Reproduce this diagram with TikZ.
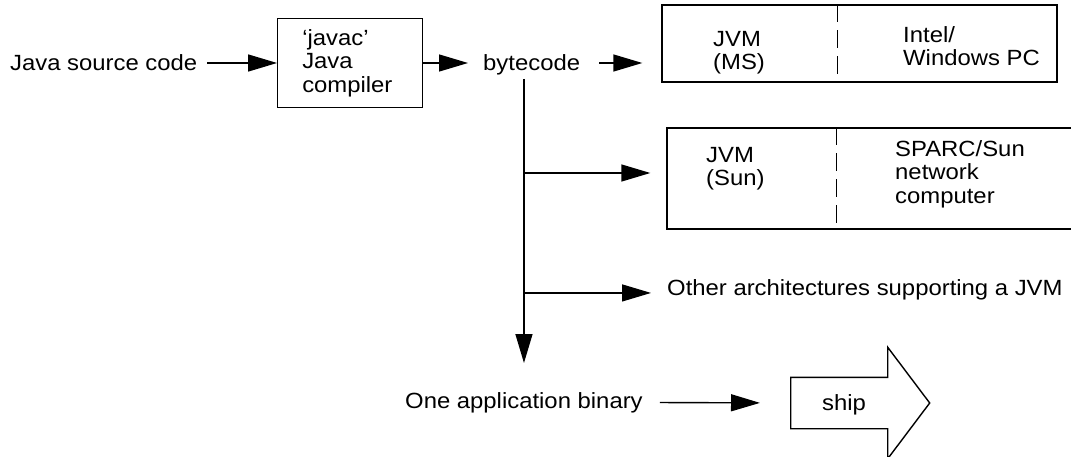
\documentclass[tikz,border=0pt]{standalone}
\usepackage{fontspec}
\setsansfont{Liberation Sans}[FakeStretch=1.085]
\usetikzlibrary{arrows.meta, shapes.arrows}
\tikzset{
	font=\sffamily\fontsize{22}{23.5}\selectfont,
	txt/.style={inner sep=0pt, align=left, anchor=north west},
	box/.style={draw, line width=1.4pt, inner sep=0pt},
	arr/.style={line width=1.4pt, -{Triangle[length=29pt, width=17pt]}},
	divider/.style={line width=1.2pt, dash pattern=on 18pt off 8pt},
	shipArrow/.style={
		draw, line width=1.4pt, single arrow, inner xsep=0pt, inner ysep=25pt,
		single arrow head extend=30pt, single arrow tip angle=106,
		minimum height=139pt, minimum width=110pt, anchor=tail
	}
}
\begin{document}
\begin{tikzpicture}[x=1pt, y=-1pt]
			\clip (0,0) rectangle (1071,457);
			\node [txt] (src) at (10,54.5) {Java source code};
			\node [box, minimum width=144.5pt, minimum height=89.5pt, text width=95.5pt,
				inner xsep=24.5pt, align=left] (javac) at (350,63) {‘javac’\\Java\\compiler};
			\node [txt] (bytecode) at (483,54) {bytecode};

			\node [box, minimum width=395pt, minimum height=77pt] (pcbox) at (859.5,43.5) {};
			\node [txt] (jvmMS) at (713,31) {JVM\\(MS)};
			\node [txt] (intelPC) at (903,26) {Intel/\\Windows PC};
			\draw [divider] ([xshift=176pt]pcbox.north west) -- ([xshift=176pt]pcbox.south west);

			\node [box, minimum width=413pt, minimum height=101pt] (sunbox) at (873.5,178.5) {};
			\node [txt] (jvmSun) at (706,147) {JVM\\(Sun)};
			\node [txt] (sparcNC) at (895,140) {SPARC/Sun\\network\\computer};
			\draw [divider] ([xshift=170pt]sunbox.north west) -- ([xshift=170pt]sunbox.south west);
			\coordinate (sunIn) at ([yshift=5.5pt]sunbox.west);

			\node [txt] (others) at (667,279) {Other architectures supporting a JVM};
			\coordinate (othersIn) at ([yshift=-3.5pt]others.west);
			\node [txt] (binary) at (405,392) {One application binary};
			\node [shipArrow] (ship) at (790,403) {};
			\node [txt] (shipText) at (822,394) {ship};

			\draw [arr, shorten <=10pt] (javac.west -| src.east) -- (javac.west);
			\draw [arr, shorten >=15pt] (javac.east) -- (javac.east -| bytecode.west);
			\draw [arr, shorten <=19pt, shorten >=19pt] (bytecode.east |- javac.east) -- (pcbox.west |- javac.east);
			\draw [arr, shorten <=4pt, shorten >=29pt] (binary.north |- bytecode.south) -- (binary.north);
			\draw [arr, shorten >=16pt] (binary.north |- sunIn) -- (sunIn);
			\draw [arr, shorten >=16pt] (binary.north |- othersIn) -- (othersIn);
			\draw [arr, shorten <=17pt, shorten >=30pt] (binary.east) -- (ship.tail);
		\end{tikzpicture}
\end{document}
